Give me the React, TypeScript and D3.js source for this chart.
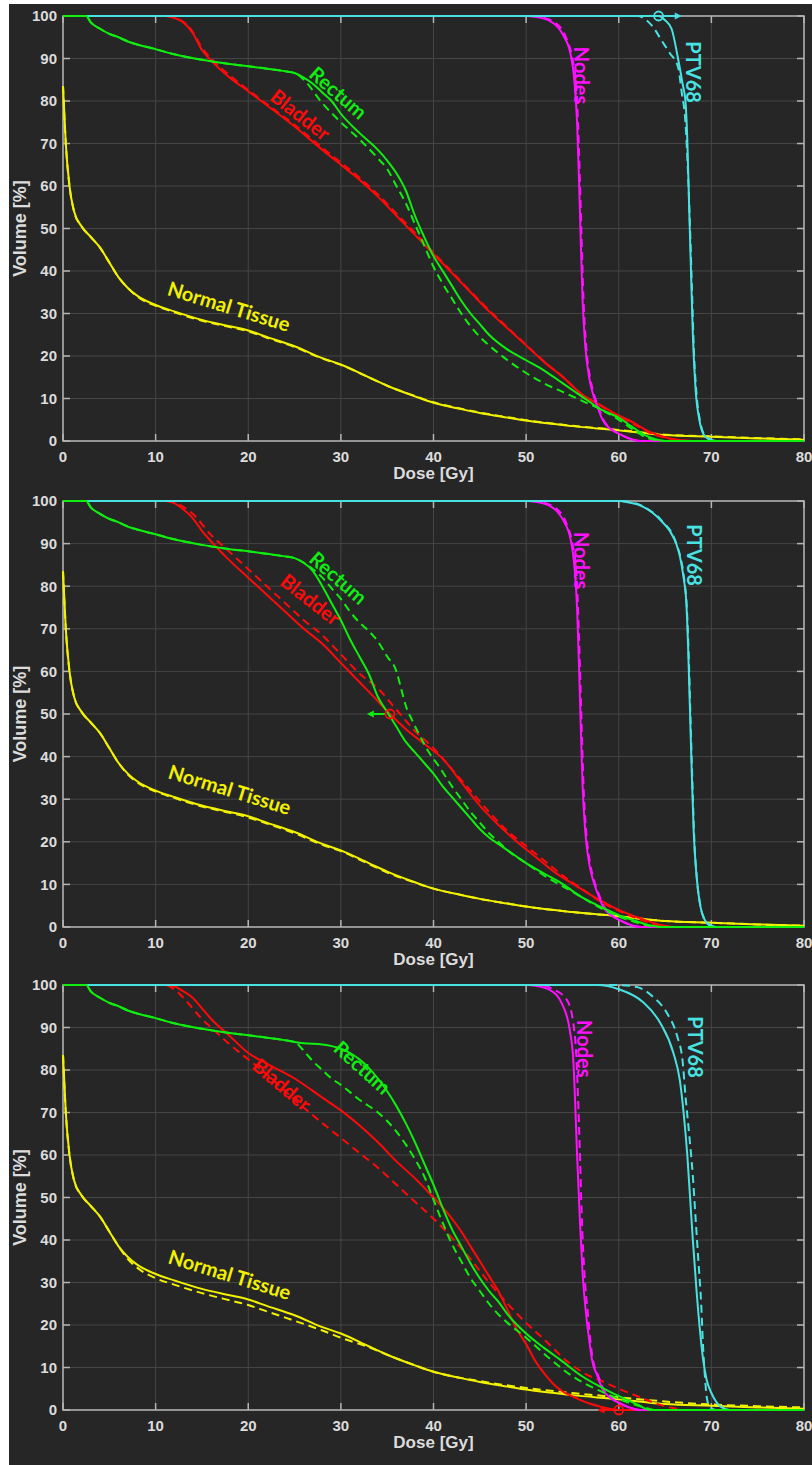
import React from 'react';
import * as d3 from 'd3';

type Pt = [number, number];

const doseTicks = [0, 10, 20, 30, 40, 50, 60, 70, 80];
const volumeTicks = [0, 10, 20, 30, 40, 50, 60, 70, 80, 90, 100];

// ---------- Panel 1 ----------
const p1NormalSolid: Pt[] = [[0,83.5],[0.3,70],[0.7,60],[1.2,54],[2,50.5],[3,48],[4,45.5],[5,42],[6,38.5],[7,36],[8,34.2],[10,32],[12,30.5],[15,28.5],[18,27],[20,26],[22,24.5],[25,22.3],[28,19.5],[30,18],[33,15],[35,13],[38,10.5],[40,9],[43,7.5],[45,6.6],[48,5.5],[50,4.8],[55,3.5],[60,2.5],[63,1.8],[65,1.4],[70,1],[75,0.6],[80,0.3]];
const p1NormalDash: Pt[] = [[0,83.5],[0.3,70],[0.7,60],[1.2,54],[2,50.5],[3,48],[4,45.5],[5,42],[6,38.5],[7,36],[8,34],[10,31.8],[12,30.3],[15,28.3],[18,26.8],[20,25.8],[22,24.3],[25,22.1],[28,19.4],[30,17.9],[33,15],[35,13],[38,10.6],[40,9.1],[43,7.6],[45,6.7],[48,5.6],[50,4.9],[55,3.6],[60,2.6],[63,1.9],[65,1.5],[70,1.1],[75,0.7],[80,0.4]];
const p1BladderSolid: Pt[] = [[0,100],[11,100],[12,99.6],[13,98.5],[14,96],[15,92],[16,89.5],[18,85.5],[20,82.3],[22,79],[25,74],[28,68.5],[30,65],[32,61.5],[34,57.5],[36,53],[38,48.5],[40,44],[42,39.5],[44,35],[46,30.5],[48,26.5],[50,22.5],[52,18.5],[54,15],[56,11],[58,8.5],[60,6],[61,5],[62,3.8],[63,2.5],[64,1.6],[65,0.9],[66,0.4],[67,0.1],[68,0],[80,0]];
const p1BladderDash: Pt[] = [[0,100],[11,100],[12,99.6],[13,98.6],[14,96.3],[15,92.5],[16,90],[18,86],[20,82.6],[22,79.3],[25,74.4],[28,69],[30,65.5],[32,62],[34,58],[36,53.5],[38,49],[40,44.3],[42,39.8],[44,35.2],[46,30.8],[48,26.7],[50,22.6],[52,18.6],[54,15],[56,11],[58,8.3],[60,5.7],[61,4.6],[62,3.5],[63,2.3],[64,1.4],[65,0.8],[66,0.3],[67,0.1],[68,0],[80,0]];
const p1RectumSolid: Pt[] = [[0,100],[2.5,100],[3,98.5],[4,97],[5,95.8],[6,95],[7,94],[8,93.3],[10,92.2],[12,91],[15,89.7],[18,88.7],[20,88.2],[22,87.6],[24,87],[25,86.6],[26,85.5],[27,84],[28,82],[29,80],[30,77],[32,72.5],[34,68.5],[35,66],[36,63],[37,59],[38,53],[39,48],[40,43.5],[41,40],[42,36.5],[43,33],[44,30],[45,27.5],[46,25],[48,21.5],[50,19],[52,16.5],[54,13.5],[56,10.5],[57,9],[58,7.5],[59,6.5],[60,5.5],[61,4],[62,2.5],[63,1.2],[64,0.4],[65,0],[80,0]];
const p1RectumDash: Pt[] = [[0,100],[2.5,100],[3,98.5],[4,97],[5,95.8],[6,95],[7,94],[8,93.3],[10,92.2],[12,91],[15,89.7],[18,88.7],[20,88.2],[22,87.6],[24,87],[25,86.6],[26,85],[28,79.5],[30,75],[32,71],[34,66.5],[35,64],[36,60],[37,56],[38,51],[39,46],[40,41],[41,37],[42,33.5],[43,30],[44,27],[45,24.5],[46,22.5],[48,19],[50,16],[52,13.5],[54,11.5],[56,9.5],[58,7.5],[60,5],[61,3.5],[62,2],[63,0.8],[64,0.2],[65,0],[80,0]];
const p1NodesSolid: Pt[] = [[0,100],[50,100],[51,99.8],[52.6,98.8],[54,95.5],[54.8,91],[55.2,85],[55.5,75],[55.7,62],[55.9,47],[56.1,33],[56.4,22],[56.8,15],[57.1,12],[57.7,8],[58.3,4.8],[59,3],[60.1,1.6],[61,0.7],[62.3,0],[80,0]];
const p1NodesDash: Pt[] = [[0,100],[50.5,100],[51.5,99.8],[53,98.6],[54.3,95],[55,90],[55.4,84],[55.6,75],[55.8,62],[56,47],[56.2,33],[56.5,22],[56.9,15],[57.2,12],[57.8,8],[58.4,4.8],[59.1,3],[60.2,1.5],[61.1,0.6],[62.4,0],[80,0]];
const p1PtvSolid: Pt[] = [[0,100],[64.3,100],[65,99],[65.7,97],[66.4,90],[66.9,84],[67.2,80],[67.4,71],[67.6,55],[67.8,40],[68,25],[68.3,12],[68.7,5],[69.1,1.8],[69.6,0.6],[70.5,0],[80,0]];
const p1PtvDash: Pt[] = [[0,100],[62,100],[63,99],[63.7,97.4],[64.7,94],[65.5,91.3],[66.4,88],[66.8,82],[67.2,75],[67.5,62],[67.7,50],[67.9,36],[68.1,22],[68.4,11],[68.8,4.5],[69.2,1.6],[69.7,0.5],[70.5,0],[80,0]];

// ---------- Panel 2 ----------
const p2NormalSolid: Pt[] = p1NormalSolid;
const p2NormalDash: Pt[] = [[0,83.5],[0.3,70],[0.7,60],[1.2,54],[2,50.5],[3,48],[4,45.5],[5,42],[6,38.5],[7,35.8],[8,34],[10,31.8],[12,30.3],[15,28.3],[18,26.8],[20,25.7],[22,24.3],[25,22],[28,19.3],[30,17.8],[33,14.8],[35,12.8],[38,10.4],[40,9],[43,7.5],[45,6.6],[48,5.5],[50,4.8],[55,3.5],[60,2.5],[63,1.8],[65,1.4],[70,1],[75,0.6],[80,0.3]];
const p2BladderSolid: Pt[] = [[0,100],[11,100],[12,99.5],[13,98],[14,96],[15,93],[16,90.5],[18,86],[20,82],[22,78],[24,74],[26,70],[28,66.5],[30,62],[32,57.5],[34,53],[35.3,50],[37,46.5],[39,43],[41,39.5],[43,34],[45,28.5],[47,24],[49,20],[51,16.5],[53,13],[55,10.2],[57,7.5],[58,6.3],[60,4],[62,2.3],[63,1.5],[64,0.8],[65,0.3],[66,0],[80,0]];
const p2BladderDash: Pt[] = [[0,100],[11,100],[12,99.6],[14,97],[16,92],[18,88],[20,84],[22,80],[24,76],[26,72],[28,68.5],[30,64],[32,59.5],[34,56],[36,51],[38,46],[40,42],[42,37],[44,32],[46,27],[48,22.5],[50,19],[52,15.5],[54,12],[56,9],[58,6],[60,3.8],[62,2],[63,1.2],[64,0.5],[65,0],[80,0]];
const p2RectumSolid: Pt[] = [[0,100],[2.5,100],[3,98.5],[4,97],[5,95.8],[6,95],[7,94],[8,93.3],[10,92.2],[12,91],[15,89.7],[18,88.7],[20,88.2],[22,87.6],[24,87],[25,86.6],[26,85.5],[27,83.5],[28,80],[29,76],[30,72],[31,67.5],[32,63.5],[33,59.5],[34,54],[35,50.5],[36,47],[37,43.5],[38,41],[39,38.5],[40,36],[41,33],[42,30.5],[43,28],[44,25.5],[45,23],[46,21],[47,19.5],[48,18],[49,16.5],[50,15],[52,12.5],[54,10],[56,7],[58,4.8],[60,2.8],[61,2],[62,1.3],[63,0.6],[64,0.2],[65,0],[80,0]];
const p2RectumDash: Pt[] = [[0,100],[2.5,100],[3,98.5],[4,97],[5,95.8],[6,95],[7,94],[8,93.3],[10,92.2],[12,91],[15,89.7],[18,88.7],[20,88.2],[22,87.6],[24,87],[25,86.6],[26,85.5],[27,84],[28,82],[29,79.5],[30,77],[31,74],[32,71.5],[33,69.5],[34,67],[35,63.5],[36,60],[36.5,56],[37,52],[37.7,48.5],[38.5,45],[39.5,41],[40.5,38],[42,33],[43,30],[44,27],[45,24.5],[46,22],[47,20],[48,18],[50,15],[52,12],[54,9.5],[56,7],[58,4.5],[60,2.5],[62,1],[63,0.4],[64,0],[80,0]];
const p2NodesSolid: Pt[] = p1NodesSolid;
const p2NodesDash: Pt[] = p1NodesDash;
const p2PtvSolid: Pt[] = [[0,100],[60,100],[61,99.7],[62,99.2],[63,98.2],[64,96.6],[64.5,95.5],[65.5,93],[66.2,90],[66.6,87],[67,82],[67.3,76],[67.5,65],[67.7,50],[67.9,35],[68.1,22],[68.4,12],[68.8,5],[69.2,2],[69.7,0.6],[70.5,0],[80,0]];
const p2PtvDash: Pt[] = [[0,100],[60.3,100],[61.3,99.7],[62.3,99.1],[63.2,98],[64.2,96.4],[64.7,95.2],[65.7,92.6],[66.3,89.5],[66.7,86.5],[67.1,81],[67.35,75],[67.55,64],[67.75,49],[67.95,34],[68.15,21],[68.45,11],[68.85,4.6],[69.25,1.8],[69.75,0.5],[70.6,0],[80,0]];

// ---------- Panel 3 ----------
const p3NormalSolid: Pt[] = p1NormalSolid;
const p3NormalDash: Pt[] = [[0,83.5],[0.3,70],[0.7,60],[1.2,54],[2,50.5],[3,48],[4,45.5],[5,42],[6,38.5],[7,35.5],[8,33.5],[10,31],[12,29.5],[15,27.5],[18,25.8],[20,24.7],[22,23.2],[25,21],[28,18.7],[30,17],[33,14.8],[35,13],[38,10.5],[40,9],[45,6.8],[50,5.2],[55,4],[60,3],[65,2],[70,1.3],[75,0.9],[80,0.6]];
const p3BladderSolid: Pt[] = [[0,100],[11,100],[12,99.7],[13,98.5],[14,97],[15,94.5],[16,92],[18,88],[20,84],[22,81.5],[25,78],[28,73.5],[30,70.5],[32,67],[34,63],[36,58.5],[38,54.5],[40,50],[42,45],[43,42],[44,38.5],[45,35],[46,31.5],[47,28],[48,23.5],[49,19],[50,15.5],[51,11.5],[52,8.5],[53,6],[54,4.3],[55,3.2],[56,2.2],[57,1.4],[58,0.8],[59,0.3],[60.1,0],[80,0]];
const p3BladderDash: Pt[] = [[0,100],[11,100],[12,99],[13,97],[14,94.5],[15,92],[16,90],[18,86],[20,82.5],[22,79],[25,73],[28,67.5],[30,64],[32,60.5],[34,57],[36,53],[38,49],[40,45],[42,40.5],[44,35.5],[46,30],[48,25],[50,20.5],[52,16.5],[54.4,11.5],[56,9],[58.7,6.3],[60,5],[62.3,3],[64.5,1.2],[66,0.4],[67,0],[80,0]];
const p3RectumSolid: Pt[] = [[0,100],[2.5,100],[3,98.5],[4,97],[5,95.8],[6,95],[7,94],[8,93.3],[10,92.2],[12,91],[15,89.7],[18,88.7],[20,88.2],[22,87.6],[24,87],[25,86.6],[26,86.3],[28,86],[30,85],[31,84],[32,82.5],[33,80.5],[34,78],[35,75],[36,71.5],[37,67.5],[38,63],[39,58],[40,53],[41,47.5],[42,42.5],[43,38.5],[44,34.5],[45,31],[46,28],[47,25.5],[48,22.5],[50,18],[52,14.5],[53.7,11.8],[56,8],[58.7,4.7],[60.9,2.4],[62,1.3],[63.4,0],[80,0]];
const p3RectumDash: Pt[] = [[0,100],[2.5,100],[3,98.5],[4,97],[5,95.8],[6,95],[7,94],[8,93.3],[10,92.2],[12,91],[15,89.7],[18,88.7],[20,88.2],[22,87.6],[24,87],[25,86.6],[26,84.5],[27,82],[28,80],[29,78],[30,76.5],[32,73],[34,70],[35,68],[36,65.5],[37,62.5],[38,59],[39,55],[40,49.5],[41,44],[42,39],[43,35],[44,31],[45,28],[46,25],[47,22.5],[48,20.5],[50,17],[52.6,12],[55.1,7.8],[57,5.5],[59,3.5],[61,1.8],[62.5,0.8],[64,0],[80,0]];
const p3NodesSolid: Pt[] = [[0,100],[50,100],[51,99.8],[52.6,98.8],[54,95],[54.7,89.5],[55.1,82],[55.3,72],[55.5,60],[55.8,45],[56.1,32],[56.5,22],[56.9,15],[57.1,12],[57.7,8],[58.3,4.7],[59,3],[60.1,1.6],[61,0.7],[62.3,0],[80,0]];
const p3NodesDash: Pt[] = [[0,100],[51,100],[52,99.8],[52.9,99],[54.4,96.5],[55.1,91],[55.4,84],[55.6,74],[55.8,61],[56,46],[56.3,32],[56.7,22],[57,15],[57.2,12],[57.8,8],[58.4,4.7],[59.1,3],[60.2,1.5],[61.1,0.6],[62.4,0],[80,0]];
const p3PtvSolid: Pt[] = [[0,100],[57.7,100],[60,99],[62.6,96],[64.5,91],[65.9,84],[66.6,77.5],[67,70],[67.4,60],[67.7,50],[68,40],[68.4,28],[68.8,18],[69.1,12],[69.5,7],[70,4],[70.5,2],[71,0.8],[72,0],[80,0]];
const p3PtvDash: Pt[] = [[0,100],[59.8,100],[62,99.5],[63.7,97.2],[65.2,93.4],[66.3,88],[66.9,82],[67.2,74],[67.6,65],[68,55],[68.3,45],[68.6,35],[68.9,25],[69.1,15],[69.3,8],[69.5,3],[69.8,0.8],[70.5,0],[80,0]];

const COLORS = {
  normal: '#f2f200',
  bladder: '#ff0a0a',
  rectum: '#10ee10',
  nodes: '#ff10ff',
  ptv: '#48e2e2',
};

type Curve = { data: Pt[]; color: string; dashed: boolean };
type Label = { text: string; color: string; d: number; v: number; angle: number };
type Marker = { d: number; v: number; to: number; circle: string; arrow: string };
type Panel = { top: number; bottom: number; curves: Curve[]; labels: Label[]; marker: Marker };

function curvesFor(
  nS: Pt[], nD: Pt[], bS: Pt[], bD: Pt[], nodS: Pt[], nodD: Pt[], pS: Pt[], pD: Pt[], rS: Pt[], rD: Pt[]
): Curve[] {
  return [
    { data: nD, color: COLORS.normal, dashed: true },
    { data: nS, color: COLORS.normal, dashed: false },
    { data: bD, color: COLORS.bladder, dashed: true },
    { data: bS, color: COLORS.bladder, dashed: false },
    { data: nodD, color: COLORS.nodes, dashed: true },
    { data: nodS, color: COLORS.nodes, dashed: false },
    { data: pD, color: COLORS.ptv, dashed: true },
    { data: pS, color: COLORS.ptv, dashed: false },
    { data: rD, color: COLORS.rectum, dashed: true },
    { data: rS, color: COLORS.rectum, dashed: false },
  ];
}

const panels: Panel[] = [
  {
    top: 16, bottom: 441,
    curves: curvesFor(p1NormalSolid, p1NormalDash, p1BladderSolid, p1BladderDash, p1NodesSolid, p1NodesDash, p1PtvSolid, p1PtvDash, p1RectumSolid, p1RectumDash),
    labels: [
      { text: 'Rectum', color: COLORS.rectum, d: 29.7, v: 81.9, angle: 41 },
      { text: 'Bladder', color: COLORS.bladder, d: 25.6, v: 76.7, angle: 38 },
      { text: 'Nodes', color: COLORS.nodes, d: 55.9, v: 86, angle: 90 },
      { text: 'PTV68', color: COLORS.ptv, d: 68.0, v: 86.8, angle: 90 },
      { text: 'Normal Tissue', color: COLORS.normal, d: 17.9, v: 31.6, angle: 17 },
    ],
    marker: { d: 64.3, v: 100, to: 66.8, circle: COLORS.ptv, arrow: COLORS.ptv },
  },
  {
    top: 501, bottom: 927,
    curves: curvesFor(p2NormalSolid, p2NormalDash, p2BladderSolid, p2BladderDash, p2NodesSolid, p2NodesDash, p2PtvSolid, p2PtvDash, p2RectumSolid, p2RectumDash),
    labels: [
      { text: 'Rectum', color: COLORS.rectum, d: 29.7, v: 81.9, angle: 41 },
      { text: 'Bladder', color: COLORS.bladder, d: 26.7, v: 76.8, angle: 38 },
      { text: 'Nodes', color: COLORS.nodes, d: 55.9, v: 86, angle: 90 },
      { text: 'PTV68', color: COLORS.ptv, d: 68.1, v: 87.3, angle: 90 },
      { text: 'Normal Tissue', color: COLORS.normal, d: 18, v: 32.2, angle: 17 },
    ],
    marker: { d: 35.3, v: 50, to: 32.8, circle: COLORS.bladder, arrow: COLORS.rectum },
  },
  {
    top: 985, bottom: 1410,
    curves: curvesFor(p3NormalSolid, p3NormalDash, p3BladderSolid, p3BladderDash, p3NodesSolid, p3NodesDash, p3PtvSolid, p3PtvDash, p3RectumSolid, p3RectumDash),
    labels: [
      { text: 'Rectum', color: COLORS.rectum, d: 32.3, v: 80.5, angle: 42 },
      { text: 'Bladder', color: COLORS.bladder, d: 23.6, v: 76.5, angle: 40 },
      { text: 'Nodes', color: COLORS.nodes, d: 56.2, v: 85, angle: 90 },
      { text: 'PTV68', color: COLORS.ptv, d: 68.2, v: 85.4, angle: 90 },
      { text: 'Normal Tissue', color: COLORS.normal, d: 18, v: 31.8, angle: 17 },
    ],
    marker: { d: 60, v: 0, to: 57.7, circle: COLORS.bladder, arrow: COLORS.bladder },
  },
];

const W = 812;
const H = 1465;
const LEFT = 63;
const RIGHT = 804;
const BG = '#262626';
const GRID = '#454545';
const AXIS = '#b4b4b4';
const TICKTXT = '#dcdcdc';
const AXFONT = 'Liberation Sans, Arial, sans-serif';

function PanelView({ p }: { p: Panel }) {
  const x = d3.scaleLinear().domain([0, 80]).range([LEFT, RIGHT]);
  const y = d3.scaleLinear().domain([0, 100]).range([p.bottom, p.top]);
  const line = d3
    .line<Pt>()
    .x((d) => x(d[0]))
    .y((d) => y(d[1]))
    .curve(d3.curveMonotoneX);
  const tl = 7;
  const m = p.marker;
  const cx = x(m.d);
  const cy = y(m.v);
  const tx = x(m.to);
  const dir = tx > cx ? 1 : -1;
  const r = 4.5;
  const ah = 7;
  return (
    <g>
      {doseTicks.map((t) => (
        <line key={'gx' + t} x1={x(t)} x2={x(t)} y1={p.top} y2={p.bottom} stroke={GRID} strokeWidth={1} />
      ))}
      {volumeTicks.map((t) => (
        <line key={'gy' + t} x1={LEFT} x2={RIGHT} y1={y(t)} y2={y(t)} stroke={GRID} strokeWidth={1} />
      ))}
      <rect x={LEFT} y={p.top} width={RIGHT - LEFT} height={p.bottom - p.top} fill="none" stroke={AXIS} strokeWidth={1.5} />
      {doseTicks.map((t) => (
        <g key={'tx' + t}>
          <line x1={x(t)} x2={x(t)} y1={p.bottom} y2={p.bottom - tl} stroke={AXIS} strokeWidth={1.5} />
          <line x1={x(t)} x2={x(t)} y1={p.top} y2={p.top + tl} stroke={AXIS} strokeWidth={1.5} />
          <text x={x(t)} y={p.bottom + 21} textAnchor="middle" fill={TICKTXT} fontSize={15} fontWeight="bold" fontFamily={AXFONT}>
            {t}
          </text>
        </g>
      ))}
      {volumeTicks.map((t) => (
        <g key={'ty' + t}>
          <line x1={LEFT} x2={LEFT + tl} y1={y(t)} y2={y(t)} stroke={AXIS} strokeWidth={1.5} />
          <line x1={RIGHT} x2={RIGHT - tl} y1={y(t)} y2={y(t)} stroke={AXIS} strokeWidth={1.5} />
          <text x={57} y={y(t)} dy="0.36em" textAnchor="end" fill={TICKTXT} fontSize={15} fontWeight="bold" fontFamily={AXFONT}>
            {t}
          </text>
        </g>
      ))}
      <text x={(LEFT + RIGHT) / 2} y={p.bottom + 38} textAnchor="middle" fill={TICKTXT} fontSize={17} fontWeight="bold" fontFamily={AXFONT}>
        Dose [Gy]
      </text>
      <text
        transform={`translate(20,${(p.top + p.bottom) / 2}) rotate(-90)`}
        dy="0.36em"
        textAnchor="middle"
        fill={TICKTXT}
        fontSize={18}
        fontWeight="bold"
        fontFamily={AXFONT}
      >
        Volume [%]
      </text>
      {p.curves.map((c, i) => (
        <path
          key={'c' + i}
          d={line(c.data) || ''}
          fill="none"
          stroke={c.color}
          strokeWidth={2}
          strokeDasharray={c.dashed ? '8 5' : undefined}
          strokeLinejoin="round"
        />
      ))}
      {p.labels.map((l, i) => (
        <text
          key={'l' + i}
          transform={`translate(${x(l.d)},${y(l.v)}) rotate(${l.angle})`}
          dy="0.35em"
          textAnchor="middle"
          fill={l.color}
          fontSize={20}
          fontWeight="bold"
          fontFamily="Lato, 'Open Sans', sans-serif"
        >
          {l.text}
        </text>
      ))}
      <g>
        <line x1={cx + dir * r} x2={tx - dir * ah} y1={cy} y2={cy} stroke={m.arrow} strokeWidth={2} />
        <path d={`M${tx},${cy} L${tx - dir * ah},${cy - 3.5} L${tx - dir * ah},${cy + 3.5} Z`} fill={m.arrow} />
        <circle cx={cx} cy={cy} r={r} fill="none" stroke={m.circle} strokeWidth={1.8} />
      </g>
    </g>
  );
}

export default function App() {
  return (
    <svg
      width={W}
      height={H}
      viewBox={`0 0 ${W} ${H}`}
      style={{ position: 'absolute', left: 0, top: 0, display: 'block' }}
    >
      <rect x={0} y={0} width={W} height={H} fill="#ffffff" />
      <rect x={9} y={4} width={W - 9} height={H - 4} fill={BG} />
      {panels.map((p, i) => (
        <PanelView key={i} p={p} />
      ))}
    </svg>
  );
}
